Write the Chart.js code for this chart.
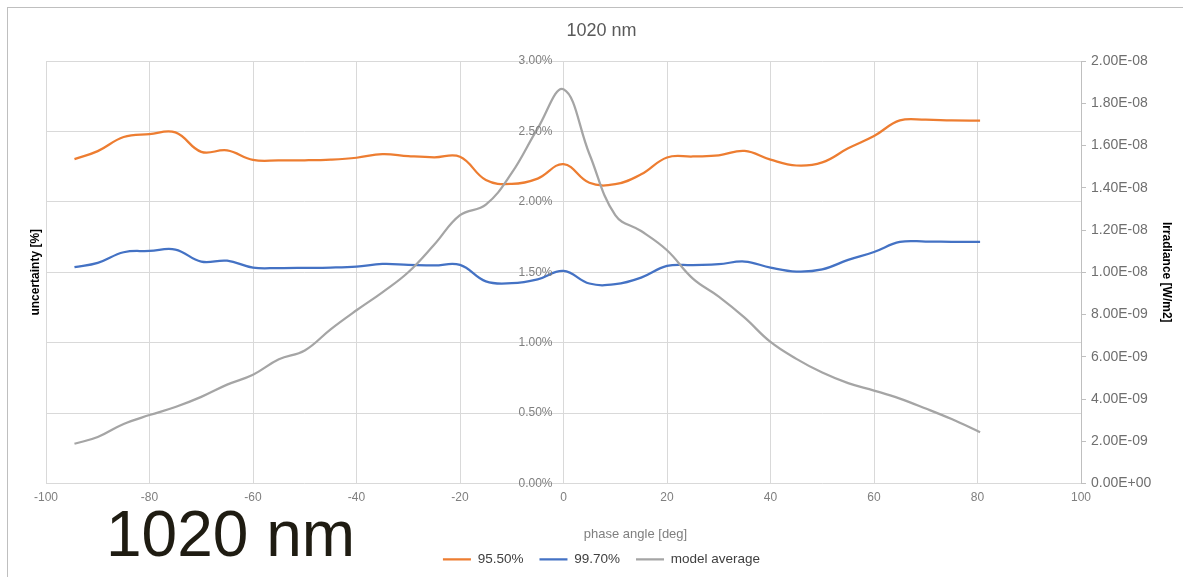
<!DOCTYPE html>
<html>
<head>
<meta charset="utf-8">
<title>1020 nm</title>
<script src="https://cdn.jsdelivr.net/npm/chart.js@4.4.1/dist/chart.umd.min.js"></script>
<style>
  html, body { margin: 0; padding: 0; background: #ffffff; }
  #wrap { position: relative; width: 1183px; height: 577px; overflow: hidden; }
  #c { position: absolute; left: 0; top: 0; }
  #frame { position: absolute; left: 7px; top: 7px; width: 1200px; height: 600px;
           border-left: 1px solid #bfbfbf; border-top: 1px solid #bfbfbf; pointer-events: none; }
  #caption { position: absolute; left: 106px; top: 502px; white-space: nowrap;
             font: 64px/64px "Liberation Sans", Arial, sans-serif; color: #1f1c12; }
</style>
</head>
<body>
<div id="wrap">
  <canvas id="c" width="1183" height="577"></canvas>
  <div id="frame"></div>
  <div id="caption">1020 nm</div>
</div>
<script>
// Phase angle samples [deg]
const phaseAngle = [-94.5, -90, -85, -80, -75, -70, -65, -60, -55, -50, -45, -40, -35, -30, -25, -20,
                    -15, -10, -5, 0, 5, 10, 15, 20, 25, 30, 35, 40, 45, 50, 55, 60, 65, 70, 75, 80.5];

// Uncertainty at 95.5 % coverage [%]
const unc955 = [2.303, 2.360, 2.460, 2.481, 2.493, 2.355, 2.365, 2.298, 2.294, 2.295, 2.300, 2.313, 2.339, 2.325, 2.316, 2.320,
                2.155, 2.127, 2.165, 2.268, 2.135, 2.125, 2.195, 2.315, 2.322, 2.330, 2.362, 2.300, 2.258, 2.280, 2.380, 2.467, 2.578, 2.583, 2.578, 2.576];

// Uncertainty at 99.7 % coverage [%]
const unc997 = [1.536, 1.567, 1.642, 1.651, 1.661, 1.575, 1.582, 1.533, 1.530, 1.531, 1.533, 1.540, 1.559, 1.553, 1.548, 1.552,
                1.435, 1.422, 1.450, 1.510, 1.420, 1.415, 1.462, 1.545, 1.551, 1.557, 1.576, 1.533, 1.505, 1.520, 1.588, 1.644, 1.715, 1.718, 1.716, 1.715];

// Model average irradiance [W/m2]
const modelAverage = [1.88e-9, 2.20e-9, 2.82e-9, 3.24e-9, 3.62e-9, 4.10e-9, 4.68e-9, 5.15e-9, 5.88e-9, 6.30e-9, 7.30e-9, 8.20e-9,
                      9.05e-9, 10.00e-9, 11.30e-9, 12.70e-9, 13.20e-9, 14.70e-9, 16.80e-9, 18.66e-9, 15.60e-9, 12.70e-9, 11.95e-9,
                      11.04e-9, 9.70e-9, 8.85e-9, 7.85e-9, 6.70e-9, 5.90e-9, 5.25e-9, 4.75e-9, 4.40e-9, 4.02e-9, 3.55e-9, 3.05e-9, 2.43e-9];

const seriesNames = ['95.50%', '99.70%', 'model average'];
const chartTitle = '1020 nm';
const xAxisTitle = 'phase angle [deg]';
const leftAxisTitle = 'uncertainty [%]';
const rightAxisTitle = 'Irradiance [W/m2]';

const FONT = '"Liberation Sans", Arial, sans-serif';
const GRID = '#d9d9d9';

function points(ys) { return phaseAngle.map((x, i) => ({ x: x, y: ys[i] })); }

// 2.00E-08 style labels
function sci(v) {
  if (Math.abs(v) < 1e-20) return '0.00E+00';
  let e = Math.floor(Math.log10(Math.abs(v)) + 1e-9);
  let m = v / Math.pow(10, e);
  if (Math.round(m * 100) / 100 >= 10) { m /= 10; e += 1; }
  return m.toFixed(2) + 'E' + (e < 0 ? '-' : '+') + String(Math.abs(e)).padStart(2, '0');
}

// Percent labels of the left axis sit beside the vertical line at 0 deg;
// the horizontal axis title sits under the plot.
const axisTextPlugin = {
  id: 'axisText',
  afterDraw(chart) {
    const { ctx, chartArea, scales } = chart;
    const y = scales.y, x = scales.x;
    ctx.save();
    ctx.font = '12px ' + FONT;
    ctx.fillStyle = '#7f7f7f';
    ctx.textAlign = 'right';
    ctx.textBaseline = 'middle';
    const x0 = x.getPixelForValue(0) - 11;
    y.ticks.forEach(t => {
      ctx.fillText(Number(t.value).toFixed(2) + '%', x0, y.getPixelForValue(t.value));
    });
    ctx.font = '13px ' + FONT;
    ctx.textAlign = 'center';
    ctx.fillText(xAxisTitle, (chartArea.left + chartArea.right) / 2 + 72, chartArea.bottom + 51);
    ctx.restore();
  }
};

const lineStyle = { borderWidth: 2.25, pointRadius: 0, pointHoverRadius: 0, tension: 0.4, fill: false };

new Chart(document.getElementById('c'), {
  type: 'line',
  data: {
    datasets: [
      Object.assign({ label: seriesNames[0], data: points(unc955), borderColor: '#ed7d31', backgroundColor: '#ed7d31', yAxisID: 'y', order: 1 }, lineStyle),
      Object.assign({ label: seriesNames[1], data: points(unc997), borderColor: '#4472c4', backgroundColor: '#4472c4', yAxisID: 'y', order: 1 }, lineStyle),
      Object.assign({ label: seriesNames[2], data: points(modelAverage), borderColor: '#a5a5a5', backgroundColor: '#a5a5a5', yAxisID: 'y2', order: 0 }, lineStyle)
    ]
  },
  options: {
    responsive: false,
    animation: false,
    devicePixelRatio: 1,
    layout: { padding: { left: 20, right: 0, top: 0, bottom: 1 } },
    plugins: {
      tooltip: { enabled: false },
      title: {
        display: true, text: chartTitle, color: '#595959',
        font: { family: FONT, size: 18, weight: 'normal' },
        padding: { top: 20, bottom: 19.4 }
      },
      legend: {
        position: 'bottom',
        labels: {
          usePointStyle: true, pointStyle: 'line', pointStyleWidth: 28,
          padding: 16, color: '#404040',
          font: { family: FONT, size: 13.5 },
          sort: (a, b) => a.datasetIndex - b.datasetIndex
        }
      }
    },
    scales: {
      x: {
        type: 'linear', min: -100, max: 100,
        ticks: { stepSize: 20, color: '#7f7f7f', font: { family: FONT, size: 12 }, padding: 7, maxRotation: 0 },
        grid: { color: GRID, lineWidth: 1, drawTicks: false },
        border: { display: false },
        afterFit(scale) { scale.height = 53; }
      },
      y: {
        type: 'linear', position: 'left', min: 0, max: 3,
        ticks: { display: false, stepSize: 0.5 },
        grid: { color: GRID, lineWidth: 1, drawTicks: false },
        border: { display: false },
        title: { display: true, text: leftAxisTitle, color: '#000000',
                 font: { family: FONT, size: 12, weight: 'bold' }, padding: { top: 8.5, bottom: 3 } },
        afterFit(scale) { scale.width = 26; }
      },
      y2: {
        type: 'linear', position: 'right', min: 0, max: 2e-8,
        ticks: { stepSize: 2e-9, color: '#6f6f6f', font: { family: FONT, size: 14 }, padding: 5,
                 callback: (v) => sci(v) },
        grid: { drawOnChartArea: false, drawTicks: true, tickLength: 5, color: '#bfbfbf' },
        border: { display: true, color: '#bfbfbf' },
        title: { display: true, text: rightAxisTitle, color: '#000000',
                 font: { family: FONT, size: 12, weight: 'bold' }, padding: { top: 9.8, bottom: 4 } },
        afterFit(scale) { scale.width = 102; }
      }
    }
  },
  plugins: [axisTextPlugin]
});
</script>
</body>
</html>
